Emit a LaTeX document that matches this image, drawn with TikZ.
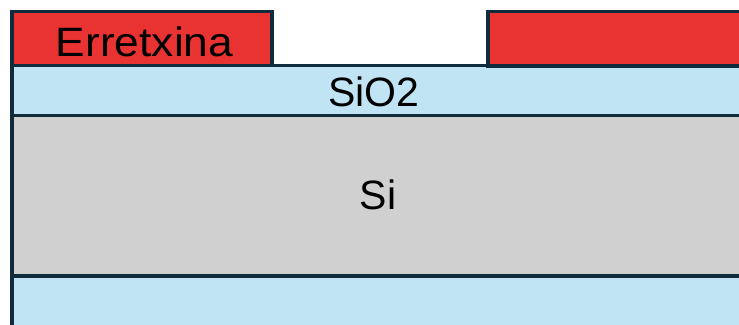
\documentclass[tikz,border=0pt]{standalone}
\usepackage{fontspec}
\setmainfont{Liberation Sans}
\definecolor{resin}{HTML}{E93232}
\definecolor{oxide}{HTML}{C1E4F5}
\definecolor{silicon}{HTML}{D0D0D0}
\definecolor{edge}{HTML}{0F2B3C}
\begin{document}
\begin{tikzpicture}[x=1pt,y=-1pt,
  layer/.style={draw=edge,line width=3.4pt},
  lbl/.style={anchor=base,inner sep=0pt,font=\fontsize{41}{41}\selectfont,text=black}]
\useasboundingbox (0,0) rectangle (739,324);
\clip (0,0) rectangle (739,324);
% bottom oxide, silicon substrate, top oxide
\path[layer,fill=oxide]   (12,276) rectangle (760,340);
\path[layer,fill=silicon] (12,115.5) rectangle (760,276);
\path[layer,fill=oxide]   (12,65.5) rectangle (760,115.5);
% resist blocks
\path[layer,fill=resin] (12,11.5) rectangle (272,65.5);
\path[layer,fill=resin] (488,11.5) rectangle (760,66);
% labels
\node[lbl,xscale=1.08,transform shape] (resist) at (144.5,56) {Erretxina};
\node[lbl] (ox) at (374,106) {SiO2};
\node[lbl] (si) at (378,209) {Si};
\end{tikzpicture}
\end{document}
